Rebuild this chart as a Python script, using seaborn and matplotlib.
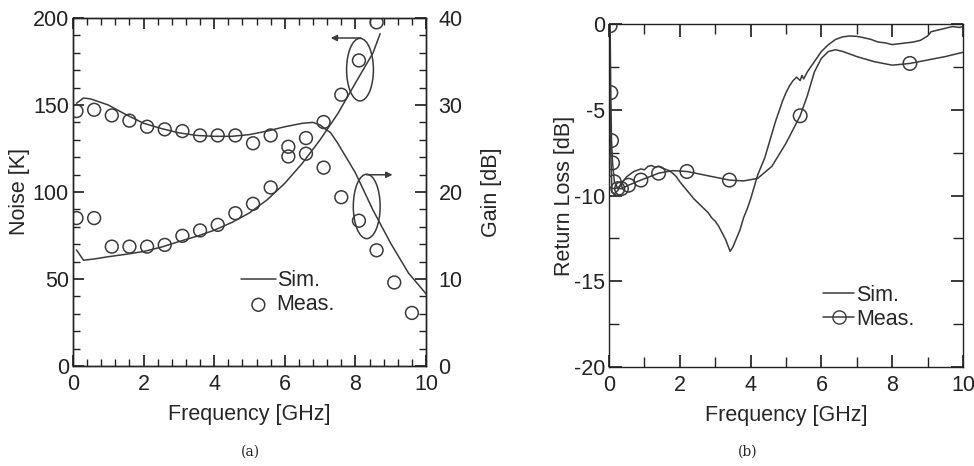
import numpy as np
import pandas as pd
import matplotlib
matplotlib.use("Agg")
import matplotlib.pyplot as plt
from matplotlib.patches import Ellipse
from matplotlib.ticker import MultipleLocator
from matplotlib.lines import Line2D
import seaborn as sns

# ---------------- data: panel (a) ----------------
noise_sim_f = [0.1, 0.3, 0.6, 1.0, 1.5, 2.0, 2.5, 3.0, 3.5, 4.0, 4.5, 5.0, 5.5, 6.0, 6.5, 7.0, 7.5, 8.0, 8.5, 8.7]
noise_sim_k = [66.7, 60.8, 61.5, 62.8, 64.2, 65.8, 68.3, 71.5, 74.5, 78.0, 82.5, 88.0, 95.5, 105.0, 116.6, 130.0, 145.0, 162.6, 180.0, 191.0]

gain_sim_f = [0.1, 0.3, 0.5, 1.0, 1.5, 2.0, 2.5, 3.0, 3.5, 4.0, 4.5, 5.0, 5.5, 6.0, 6.5, 6.8, 7.0, 7.3, 7.5, 8.0, 8.5, 9.0, 9.5, 10.0]
gain_sim_db = [30.2, 30.8, 30.7, 30.0, 28.9, 27.9, 27.3, 26.8, 26.5, 26.4, 26.4, 26.6, 27.0, 27.5, 27.9, 28.0, 27.7, 26.8, 25.6, 22.2, 17.9, 14.1, 10.7, 8.3]

meas_f = [0.1, 0.6, 1.1, 1.6, 2.1, 2.6, 3.1, 3.6, 4.1, 4.6, 5.1, 5.6, 6.1, 6.6, 7.1, 7.6, 8.1, 8.6, 9.1, 9.6]
noise_meas_k = [85.0, 85.0, 68.6, 68.6, 68.6, 69.6, 74.8, 77.9, 81.1, 87.8, 93.2, 102.6, 120.4, 122.0, 140.2, 155.9, 175.6, 197.5]
gain_meas_db = [29.3, 29.45, 28.8, 28.2, 27.5, 27.2, 27.0, 26.5, 26.5, 26.5, 25.6, 26.5, 25.2, 26.2, 22.8, 19.4, 16.7, 13.3, 9.6, 6.1]

# ---------------- data: panel (b) ----------------
rl_sim_f = [0.0, 0.02, 0.05, 0.08, 0.15, 0.25, 0.35, 0.5, 0.7, 0.9, 1.0, 1.1, 1.2, 1.3, 1.4, 1.5, 1.7, 1.8, 1.9,
            2.0, 2.2, 2.4, 2.6, 2.8, 2.9, 3.0, 3.1, 3.2, 3.3, 3.42, 3.5, 3.6, 3.7, 3.8, 3.9, 4.0, 4.1, 4.2, 4.3,
            4.4, 4.5, 4.6, 4.7, 4.8, 4.9, 5.0, 5.1, 5.2, 5.3, 5.4, 5.45, 5.5, 5.6, 5.7, 5.8, 6.0, 6.2, 6.4, 6.6,
            6.8, 7.0, 7.2, 7.4, 7.6, 7.8, 8.0, 8.2, 8.4, 8.6, 8.8, 9.0, 9.1, 9.3, 9.5, 9.7, 9.9, 10.0]
rl_sim_db = [-0.3, -3.0, -7.5, -9.8, -9.9, -9.7, -9.3, -8.9, -8.6, -8.45, -8.5, -8.3, -8.25, -8.35, -8.3, -8.4, -8.55, -8.7, -8.9,
             -9.2, -9.7, -10.2, -10.6, -11.0, -11.3, -11.5, -11.8, -12.2, -12.6, -13.25, -13.0, -12.5, -12.0, -11.3, -10.8, -10.2, -9.5, -8.8, -8.3,
             -7.8, -7.1, -6.4, -5.7, -5.1, -4.5, -4.0, -3.6, -3.3, -3.1, -3.3, -3.0, -3.2, -2.8, -2.5, -2.2, -1.6, -1.2, -0.9, -0.75,
             -0.7, -0.72, -0.8, -0.9, -1.05, -1.1, -1.2, -1.15, -1.1, -1.05, -0.95, -0.7, -0.45, -0.35, -0.25, -0.15, -0.2, -0.15]

rl_meas_f = [0.03, 0.05, 0.07, 0.1, 0.15, 0.25, 0.35, 0.55, 0.9, 1.4, 1.8, 2.2, 2.8, 3.4, 3.8, 4.2, 4.6, 5.0, 5.4, 5.6,
             5.8, 6.0, 6.2, 6.4, 6.6, 7.0, 7.5, 8.0, 8.5, 9.0, 9.5, 10.0]
rl_meas_db = [-0.1, -4.0, -6.8, -8.1, -9.2, -9.6, -9.6, -9.4, -9.1, -8.7, -8.55, -8.6, -8.85, -9.1, -9.15, -9.0, -8.3, -6.95, -5.35, -4.2,
              -2.8, -2.0, -1.6, -1.5, -1.6, -1.9, -2.2, -2.4, -2.3, -2.1, -1.9, -1.65]
rl_mark_f = [0.03, 0.05, 0.07, 0.1, 0.15, 0.25, 0.35, 0.55, 0.9, 1.4, 2.2, 3.4, 5.4, 8.5]
rl_mark_db = [-0.1, -4.0, -6.8, -8.1, -9.2, -9.6, -9.6, -9.4, -9.1, -8.7, -8.6, -9.1, -5.35, -2.3]

# ---------------- style ----------------
sns.set_theme(style="ticks")
plt.rcParams['font.family'] = ['Liberation Sans', 'DejaVu Sans']
FS = 15.5
LC = '#3a3a3a'
plt.rcParams.update({
    'axes.edgecolor': '#222222', 'axes.linewidth': 1.0,
    'xtick.direction': 'in', 'ytick.direction': 'in',
    'xtick.color': '#222222', 'ytick.color': '#222222',
    'xtick.labelsize': FS, 'ytick.labelsize': FS,
    'axes.labelsize': FS, 'axes.unicode_minus': False,
})

fig = plt.figure(figsize=(9.74, 4.66), dpi=100)
ax1 = fig.add_axes([0.0749, 0.2146, 0.3625, 0.7468])
ax3 = fig.add_axes([0.6253, 0.2124, 0.3634, 0.7361])

# ---- panel (a) ----
sns.lineplot(x=noise_sim_f, y=noise_sim_k, ax=ax1, color=LC, lw=1.1, sort=False, label='Sim.')
sns.scatterplot(x=meas_f[:len(noise_meas_k)], y=noise_meas_k, ax=ax1, marker='o', s=85,
                facecolor='none', edgecolor=LC, linewidth=1.1, label='Meas.')
ax1.set_xlim(0, 10)
ax1.set_ylim(0, 200)
ax1.xaxis.set_major_locator(MultipleLocator(2))
ax1.xaxis.set_minor_locator(MultipleLocator(0.4))
ax1.yaxis.set_major_locator(MultipleLocator(50))
ax1.yaxis.set_minor_locator(MultipleLocator(10))
ax1.tick_params(axis='x', which='major', length=8, top=True, pad=6)
ax1.tick_params(axis='y', which='major', length=8, right=False, pad=3)
ax1.tick_params(which='minor', length=5, top=True, right=False)
ax1.set_xlabel('Frequency [GHz]', labelpad=6)
ax1.set_ylabel('Noise [K]', labelpad=2)

ax2 = ax1.twinx()
sns.lineplot(x=gain_sim_f, y=gain_sim_db, ax=ax2, color=LC, lw=1.1, sort=False, legend=False)
sns.scatterplot(x=meas_f, y=gain_meas_db, ax=ax2, marker='o', s=85,
                facecolor='none', edgecolor=LC, linewidth=1.1, legend=False)
ax2.set_ylim(0, 40)
ax2.yaxis.set_major_locator(MultipleLocator(10))
ax2.yaxis.set_minor_locator(MultipleLocator(2))
ax2.tick_params(which='major', length=8, pad=9)
ax2.tick_params(which='minor', length=5)
ax2.set_ylabel('Gain [dB]', labelpad=13)

ax1.legend(loc='upper left', bbox_to_anchor=(0.452, 0.30), frameon=False, fontsize=FS,
           handlelength=1.6, handletextpad=0.05, labelspacing=0.15, borderaxespad=0)

ax1.add_patch(Ellipse((8.13, 170.3), 0.76, 36, fill=False, edgecolor=LC, lw=1.1, zorder=5))
ax1.add_patch(Ellipse((8.32, 91.7), 0.76, 37, fill=False, edgecolor=LC, lw=1.1, zorder=5))
ax1.annotate('', xy=(7.3, 188.5), xytext=(8.15, 188.5),
             arrowprops=dict(arrowstyle='-|>', color=LC, lw=1.1, mutation_scale=9, shrinkA=0, shrinkB=0))
ax1.annotate('', xy=(9.05, 109.9), xytext=(8.32, 109.9),
             arrowprops=dict(arrowstyle='-|>', color=LC, lw=1.1, mutation_scale=9, shrinkA=0, shrinkB=0))

# ---- panel (b) ----
sns.lineplot(x=rl_sim_f, y=rl_sim_db, ax=ax3, color=LC, lw=1.1, sort=False, legend=False)
sns.lineplot(x=rl_meas_f, y=rl_meas_db, ax=ax3, color=LC, lw=1.1, sort=False, legend=False)
sns.scatterplot(x=rl_mark_f, y=rl_mark_db, ax=ax3, marker='o', s=95, facecolor='none',
                edgecolor=LC, linewidth=1.1, zorder=5, legend=False)
ax3.set_xlim(0, 10)
ax3.set_ylim(-20, 0)
ax3.xaxis.set_major_locator(MultipleLocator(2))
ax3.xaxis.set_minor_locator(MultipleLocator(1))
ax3.yaxis.set_major_locator(MultipleLocator(5))
ax3.yaxis.set_minor_locator(MultipleLocator(2.5))
ax3.tick_params(axis='x', which='major', length=9, top=True, pad=6)
ax3.tick_params(axis='y', which='major', length=9, right=True, pad=3)
ax3.tick_params(which='minor', length=7, top=True, right=True)
ax3.set_xlabel('Frequency [GHz]', labelpad=6)
ax3.set_ylabel('Return Loss [dB]', labelpad=-1)
h_sim = Line2D([], [], color=LC, lw=1.1)
h_meas = Line2D([], [], color=LC, lw=1.1, marker='o', markersize=9.5, markerfacecolor='none')
ax3.legend([h_sim, h_meas], ['Sim.', 'Meas.'], loc='upper left', bbox_to_anchor=(0.58, 0.265),
           frameon=False, fontsize=FS, handlelength=1.45, handletextpad=0.1, labelspacing=0.15, borderaxespad=0)

fig.text(0.257, 0.030, '(a)', family=['DejaVu Serif'], fontsize=10, ha='center', va='center')
fig.text(0.768, 0.030, '(b)', family=['DejaVu Serif'], fontsize=10, ha='center', va='center')

fig.savefig('out.png', dpi=100)
